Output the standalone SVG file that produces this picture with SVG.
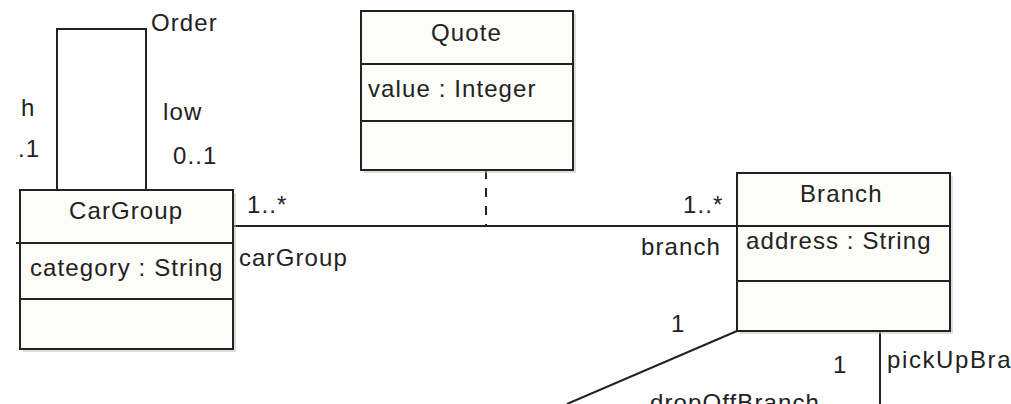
<svg xmlns="http://www.w3.org/2000/svg" width="1011" height="404" viewBox="0 0 1011 404">
<style>
.box{fill:#fcfcf8;stroke:#222;stroke-width:2}
.shadow{fill:#bbb;opacity:0.5}
.div{stroke:#222;stroke-width:2}
.ln{stroke:#222;stroke-width:2;fill:none}
.dash{stroke:#222;stroke-width:2;stroke-dasharray:9 9;fill:none}
text{font-family:"Liberation Sans",Arial,sans-serif;font-size:24px;fill:#222;letter-spacing:1.1px}
</style>
<rect width="1011" height="404" fill="#ffffff"/>
<g id="connectors">
<polyline class="ln" points="57,190 57,29 146,29 146,190"/>
<line class="ln" x1="233" y1="226" x2="737" y2="226"/>
<line class="dash" x1="486" y1="170" x2="486" y2="226"/>
<line class="ln" x1="737" y1="331" x2="567" y2="404"/>
<line class="ln" x1="880" y1="331" x2="880" y2="404"/>
<line class="ln" x1="16" y1="243" x2="20" y2="243"/>
<text x="151" y="31">Order</text>
<text x="21" y="116">h</text>
<text x="163" y="120">low</text>
<text x="18" y="157">.1</text>
<text x="173" y="164">0..1</text>
<text x="247" y="213">1..*</text>
<text x="239" y="266">carGroup</text>
<text x="683" y="213">1..*</text>
<text x="641" y="255">branch</text>
<text x="671" y="332">1</text>
<text x="833" y="373">1</text>
<text x="887" y="368" style="letter-spacing:1.6px">pickUpBra</text>
<text x="650" y="411">dropOffBranch</text>
</g>
<g id="CarGroup">
<rect class="shadow" x="23" y="193" width="213" height="159"/>
<rect class="box" x="20" y="190" width="213" height="159"/>
<line class="div" x1="20" y1="243" x2="233" y2="243"/>
<line class="div" x1="20" y1="299" x2="233" y2="299"/>
<text x="69" y="219">CarGroup</text>
<text x="30" y="276">category : String</text>
</g>
<g id="Quote">
<rect class="shadow" x="364" y="14" width="212" height="159"/>
<rect class="box" x="361" y="11" width="212" height="159"/>
<line class="div" x1="361" y1="64" x2="573" y2="64"/>
<line class="div" x1="361" y1="121" x2="573" y2="121"/>
<text x="431" y="41">Quote</text>
<text x="368" y="97">value : Integer</text>
</g>
<g id="Branch">
<rect class="shadow" x="740" y="176" width="213" height="158"/>
<rect class="box" x="737" y="173" width="213" height="158"/>
<line class="div" x1="737" y1="226" x2="950" y2="226"/>
<line class="div" x1="737" y1="281" x2="950" y2="281"/>
<text x="800" y="202">Branch</text>
<text x="746" y="249">address : String</text>
</g>
</svg>
